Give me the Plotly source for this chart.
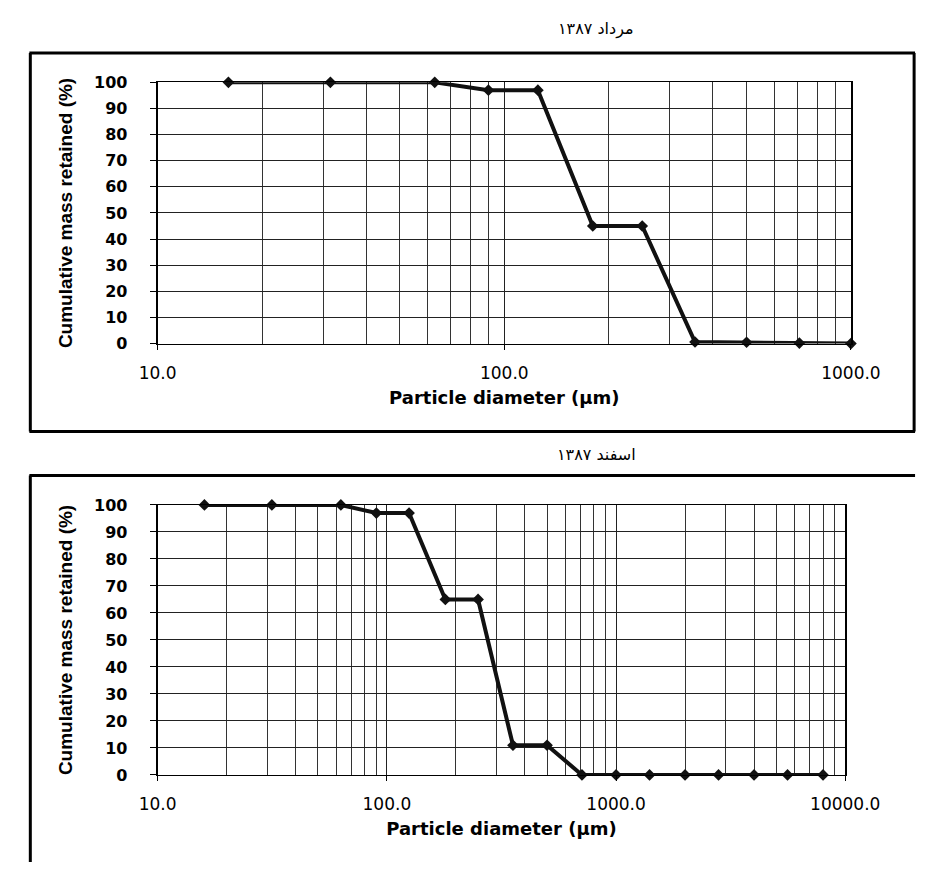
import plotly.graph_objects as go

# ---------------- data ----------------
top_title = "مرداد ۱۳۸۷"
bottom_title = "اسفند ۱۳۸۷"
x_title = "Particle diameter (µm)"
y_title = "Cumulative mass retained (%)"

top_diam = [16, 31.5, 63, 90, 125, 180, 250, 355, 500, 710, 1000]
top_retained = [100, 100, 100, 97, 97, 45, 45, 0.6, 0.5, 0.2, 0]

bot_diam = [16, 31.5, 63, 90, 125, 180, 250, 355, 500, 710, 1000,
            1400, 2000, 2800, 4000, 5600, 8000]
bot_retained = [100, 100, 100, 97, 97, 65, 65, 11, 11, 0, 0,
                0, 0, 0, 0, 0, 0]

y_ticks = [0, 10, 20, 30, 40, 50, 60, 70, 80, 90, 100]
top_x_ticks = [10, 100, 1000]
top_x_text = ["10.0", "100.0", "1000.0"]
bot_x_ticks = [10, 100, 1000, 10000]
bot_x_text = ["10.0", "100.0", "1000.0", "10000.0"]

# ---------------- figure ----------------
W, H = 951, 873
FONT = "Liberation Sans, Arial, sans-serif"
WIDE = "DejaVu Sans, Verdana, sans-serif"

def px_x(v):
    return v / W

def px_y(v):
    return (H - v) / H

fig = go.Figure()

line_style = dict(color="#111111", width=4)
marker_style = dict(symbol="diamond", size=9, color="#111111")

fig.add_trace(go.Scatter(x=top_diam, y=top_retained, mode="lines+markers",
                         line=line_style, marker=marker_style,
                         cliponaxis=False, showlegend=False,
                         xaxis="x", yaxis="y"))
fig.add_trace(go.Scatter(x=bot_diam, y=bot_retained, mode="lines+markers",
                         line=line_style, marker=marker_style,
                         cliponaxis=False, showlegend=False,
                         xaxis="x2", yaxis="y2"))

def xaxis_cfg(domain, rng, tickvals, ticktext, anchor):
    return dict(
        domain=domain, type="log", range=rng, anchor=anchor,
        tickvals=tickvals, ticktext=ticktext,
        ticks="outside", ticklen=5, tickcolor="black", tickwidth=1,
        showgrid=True, gridcolor="#222222", gridwidth=1,
        minor=dict(dtick="D1", showgrid=True, gridcolor="#333333",
                   gridwidth=1, ticks=""),
        showline=True, linecolor="black", linewidth=1, mirror=True,
        tickfont=dict(family=WIDE, size=17, color="black"),
        ticklabelstandoff=9,
        title=dict(text="<b>" + x_title + "</b>", standoff=9,
                   font=dict(family=WIDE, size=18, color="black")),
        zeroline=False,
    )

def yaxis_cfg(domain, anchor):
    return dict(
        domain=domain, range=[0, 100], anchor=anchor,
        tickvals=y_ticks, ticktext=[str(v) for v in y_ticks],
        ticks="outside", ticklen=6, tickcolor="black", tickwidth=1,
        showgrid=True, gridcolor="#222222", gridwidth=1,
        showline=True, linecolor="black", linewidth=2, mirror=True,
        tickfont=dict(family=WIDE, size=16, color="black", weight="bold"),
        ticklabelstandoff=19,
        title=dict(text="<b>" + y_title + "</b>", standoff=16,
                   font=dict(family=FONT, size=19, color="black")),
        zeroline=False,
    )

fig.update_layout(
    width=W, height=H,
    margin=dict(l=0, r=0, t=0, b=0),
    paper_bgcolor="white", plot_bgcolor="white",
    xaxis=xaxis_cfg([px_x(147), px_x(882)], [1, 3], top_x_ticks, top_x_text, "y"),
    yaxis=yaxis_cfg([px_y(342), px_y(75)], "x"),
    xaxis2=xaxis_cfg([px_x(147), px_x(876)], [1, 4], bot_x_ticks, bot_x_text, "y2"),
    yaxis2=yaxis_cfg([px_y(783), px_y(507)], "x2"),
)

# frames around each chart (kept inside the page)
frame = dict(color="black", width=3)
def hline(x0, x1, y):
    fig.add_shape(type="line", xref="paper", yref="paper",
                  x0=px_x(x0), x1=px_x(x1), y0=px_y(y), y1=px_y(y), line=frame)
def vline(x, y0, y1):
    fig.add_shape(type="line", xref="paper", yref="paper",
                  x0=px_x(x), x1=px_x(x), y0=px_y(y0), y1=px_y(y1), line=frame)

hline(11, 950, 45)
hline(11, 950, 432)
vline(12, 45, 432)
vline(949, 45, 432)
hline(11, 950, 477)
vline(12, 477, 872)

# Persian titles
for txt, ypix in [(top_title, 20), (bottom_title, 455)]:
    fig.add_annotation(text=txt, xref="paper", yref="paper",
                       x=px_x(612), y=px_y(ypix), showarrow=False,
                       xanchor="center", yanchor="middle",
                       font=dict(family="DejaVu Sans, sans-serif",
                                 size=16, color="black"))

fig.write_html(
    "out.html",
    config={"displayModeBar": False},
    post_script="document.body.style.margin='0';document.body.style.overflow='hidden';",
)
